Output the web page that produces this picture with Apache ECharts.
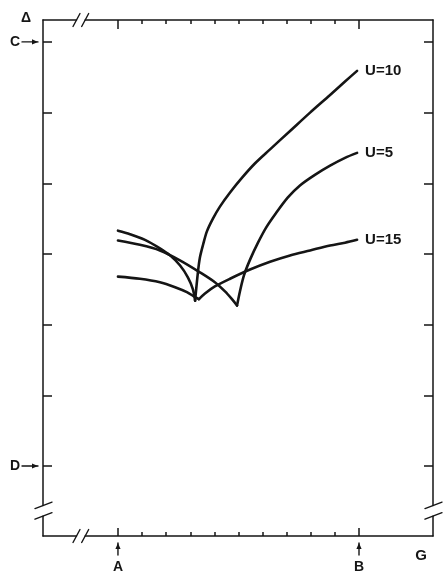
<!DOCTYPE html>
<html>
<head>
<meta charset="utf-8">
<script src="https://cdn.jsdelivr.net/npm/echarts@6/dist/echarts.min.js"></script>
<style>
  html, body { margin: 0; padding: 0; background: #fff; }
  #chart { width: 448px; height: 574px; }
</style>
</head>
<body>
<div id="chart"></div>
<script>
// Gap curves: each U value has a falling branch (left of its cusp) and a rising branch.
const u10Left  = [[0,3.33],[0.5,3.28],[1.12,3.20],[1.74,3.08],[2.16,2.98],[2.57,2.84],[2.90,2.67],[3.11,2.50],[3.20,2.34]];
const u10Right = [[3.20,2.34],[3.32,2.75],[3.40,2.95],[3.53,3.13],[3.69,3.32],[3.94,3.50],[4.23,3.67],[4.65,3.87],[5.15,4.08],[5.68,4.28],[6.31,4.48],[7.14,4.74],[7.97,5.00],[8.80,5.25],[9.42,5.44],[9.92,5.59]];
const u5Left   = [[0,3.19],[0.91,3.13],[1.74,3.05],[2.57,2.91],[3.40,2.74],[4.02,2.60],[4.44,2.47],[4.73,2.36],[4.94,2.27]];
const u5Right  = [[4.94,2.27],[5.06,2.47],[5.23,2.70],[5.48,2.92],[5.81,3.16],[6.14,3.37],[6.56,3.58],[7.05,3.80],[7.55,3.97],[8.17,4.12],[8.80,4.25],[9.42,4.36],[9.92,4.43]];
const u15Left  = [[0,2.68],[0.91,2.65],[1.74,2.60],[2.37,2.53],[2.86,2.46],[3.20,2.39],[3.36,2.36]];
const u15Right = [[3.36,2.36],[3.61,2.44],[4.02,2.54],[4.65,2.65],[5.48,2.78],[6.31,2.89],[7.14,2.98],[7.97,3.05],[8.80,3.12],[9.42,3.16],[9.92,3.20]];
const seriesNames = ['U=10', 'U=5', 'U=15'];

// Axis marks
const xMarkValues = [0, 10];
const xMarkLabels = ['A', 'B'];
const xMinorTicks = [1, 2, 3, 4, 5, 6, 7, 8, 9];
const yMarkValues = [6, 0];
const yMarkLabels = ['C', 'D'];
const yTicks = [0, 1, 2, 3, 4, 5, 6];
const yName = 'Δ';
const xName = 'G';

// Axis ranges and broken-axis gaps
const X_MIN = -3.11, X_MAX = 13.07;
const Y_MIN = -0.99, Y_MAX = 6.31;
const X_BREAK = [-1.72, -1.36];
const Y_BREAK = [-0.56, -0.71];

const INK = '#151515';
const FONT = '"Liberation Sans", Arial, sans-serif';

const chart = echarts.init(document.getElementById('chart'), null, { renderer: 'canvas' });

const tickStyle = { color: INK, width: 1.5 };
function xAxisDef(position, ticks, len, withLabels) {
  return {
    type: 'value', position, min: X_MIN, max: X_MAX,
    axisLine: { show: false, onZero: false }, splitLine: { show: false },
    axisTick: { show: true, inside: true, length: len, customValues: ticks, lineStyle: tickStyle },
    axisLabel: withLabels ? {
      show: true, customValues: xMarkValues, margin: 24,
      formatter: v => xMarkLabels[xMarkValues.indexOf(v)],
      color: INK, fontFamily: FONT, fontWeight: 'bold', fontSize: 14
    } : { show: false }
  };
}
function yAxisDef(position, withLabels) {
  return {
    type: 'value', position, min: Y_MIN, max: Y_MAX,
    axisLine: { show: false, onZero: false }, splitLine: { show: false },
    axisTick: { show: true, inside: true, length: 9, customValues: yTicks, lineStyle: tickStyle },
    axisLabel: withLabels ? {
      show: true, customValues: yMarkValues, margin: 23,
      formatter: v => yMarkLabels[yMarkValues.indexOf(v)],
      color: INK, fontFamily: FONT, fontWeight: 'bold', fontSize: 14
    } : { show: false }
  };
}

function branch(name, data, withLabel) {
  return {
    type: 'line', name, data, xAxisIndex: 0, yAxisIndex: 0,
    showSymbol: false, smooth: 0.3, silent: true,
    lineStyle: { color: INK, width: 2.6, cap: 'round', join: 'round' },
    endLabel: withLabel ? {
      show: true, formatter: name, distance: 8,
      color: INK, fontFamily: FONT, fontWeight: 'bold', fontSize: 15
    } : { show: false }
  };
}

chart.setOption({
  animation: false,
  backgroundColor: '#fff',
  grid: { left: 43, right: 15, top: 20, bottom: 37 },
  xAxis: [
    xAxisDef('bottom', xMinorTicks, 4, true),
    xAxisDef('bottom', xMarkValues, 8, false),
    xAxisDef('top', xMinorTicks, 4, false),
    xAxisDef('top', xMarkValues, 9, false)
  ],
  yAxis: [yAxisDef('left', true), yAxisDef('right', false)],
  series: [
    branch(seriesNames[0], u10Left, false),
    branch(seriesNames[0], u10Right, true),
    branch(seriesNames[1], u5Left, false),
    branch(seriesNames[1], u5Right, true),
    branch(seriesNames[2], u15Left, false),
    branch(seriesNames[2], u15Right, true)
  ]
});

// Frame with axis breaks, arrows and axis names, placed through the axis scales.
function P(x, y) { return chart.convertToPixel({ xAxisIndex: 0, yAxisIndex: 0 }, [x, y]); }
const els = [];
function seg(a, b, w) {
  els.push({ type: 'line', shape: { x1: a[0], y1: a[1], x2: b[0], y2: b[1] }, style: { stroke: INK, lineWidth: w || 1.5, lineCap: 'round' }, silent: true });
}
const tl = P(X_MIN, Y_MAX), tr = P(X_MAX, Y_MAX), bl = P(X_MIN, Y_MIN), br = P(X_MAX, Y_MIN);
const bx0 = P(X_BREAK[0], 0)[0], bx1 = P(X_BREAK[1], 0)[0];
const by0 = P(0, Y_BREAK[0])[1], by1 = P(0, Y_BREAK[1])[1];

// top and bottom edges
[tl[1], bl[1]].forEach(y => {
  seg([tl[0], y], [bx0, y]);
  seg([bx1, y], [tr[0], y]);
  seg([bx0 - 3.5, y + 6.5], [bx0 + 3.5, y - 6.5], 1.4);
  seg([bx1 - 3.5, y + 6.5], [bx1 + 3.5, y - 6.5], 1.4);
});
// left and right edges
[tl[0], tr[0]].forEach(x => {
  seg([x, tl[1]], [x, by0]);
  seg([x, by1], [x, bl[1]]);
  seg([x - 8, by0 + 3], [x + 9, by0 - 3.5], 1.4);
  seg([x - 8, by1 + 3], [x + 9, by1 - 3.5], 1.4);
});

// arrows pointing at the marked values
function arrowHead(tip, dir) {
  const [dx, dy] = dir, L = 6, W = 2.6;
  const bxp = tip[0] - dx * L, byp = tip[1] - dy * L;
  els.push({ type: 'polygon', silent: true,
    shape: { points: [[tip[0], tip[1]], [bxp - dy * W, byp + dx * W], [bxp + dy * W, byp - dx * W]] },
    style: { fill: INK } });
}
yMarkValues.forEach(v => {
  const p = P(X_MIN, v);
  const tip = [p[0] - 5, p[1]];
  seg([p[0] - 21, p[1]], tip, 1.4);
  arrowHead(tip, [1, 0]);
});
xMarkValues.forEach(v => {
  const p = P(v, Y_MIN);
  const tip = [p[0], p[1] + 7];
  seg([p[0], p[1] + 19], tip, 1.4);
  arrowHead(tip, [0, -1]);
});

// axis names
els.push({ type: 'text', silent: true, x: tl[0] - 17, y: tl[1] - 2,
  style: { text: yName, fill: INK, font: 'bold 14px ' + FONT, align: 'center', verticalAlign: 'middle' } });
els.push({ type: 'text', silent: true, x: br[0] - 12, y: br[1] + 20,
  style: { text: xName, fill: INK, font: 'bold 15px ' + FONT, align: 'center', verticalAlign: 'middle' } });

chart.setOption({ graphic: { elements: els } });
</script>
</body>
</html>
